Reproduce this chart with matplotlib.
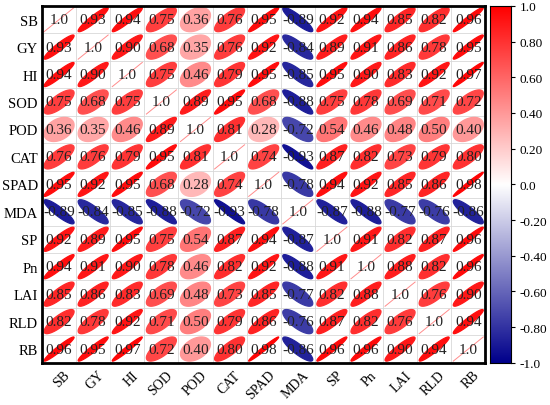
import numpy as np
import matplotlib
matplotlib.use("Agg")
import matplotlib.pyplot as plt
import matplotlib.transforms as mtrans
from matplotlib.colors import LinearSegmentedColormap
from matplotlib.patches import Polygon

# variables y matriz de correlación
labels = ["SB", "GY", "HI", "SOD", "POD", "CAT", "SPAD", "MDA", "SP", "Pn", "LAI", "RLD", "RB"]

corr = np.array([
    [1.0, 0.93, 0.94, 0.75, 0.36, 0.76, 0.95, -0.89, 0.92, 0.94, 0.85, 0.82, 0.96],
    [0.93, 1.0, 0.90, 0.68, 0.35, 0.76, 0.92, -0.84, 0.89, 0.91, 0.86, 0.78, 0.95],
    [0.94, 0.90, 1.0, 0.75, 0.46, 0.79, 0.95, -0.85, 0.95, 0.90, 0.83, 0.92, 0.97],
    [0.75, 0.68, 0.75, 1.0, 0.89, 0.95, 0.68, -0.88, 0.75, 0.78, 0.69, 0.71, 0.72],
    [0.36, 0.35, 0.46, 0.89, 1.0, 0.81, 0.28, -0.72, 0.54, 0.46, 0.48, 0.50, 0.40],
    [0.76, 0.76, 0.79, 0.95, 0.81, 1.0, 0.74, -0.93, 0.87, 0.82, 0.73, 0.79, 0.80],
    [0.95, 0.92, 0.95, 0.68, 0.28, 0.74, 1.0, -0.78, 0.94, 0.92, 0.85, 0.86, 0.98],
    [-0.89, -0.84, -0.85, -0.88, -0.72, -0.93, -0.78, 1.0, -0.87, -0.88, -0.77, -0.76, -0.86],
    [0.92, 0.89, 0.95, 0.75, 0.54, 0.87, 0.94, -0.87, 1.0, 0.91, 0.82, 0.87, 0.96],
    [0.94, 0.91, 0.90, 0.78, 0.46, 0.82, 0.92, -0.88, 0.91, 1.0, 0.88, 0.82, 0.96],
    [0.85, 0.86, 0.83, 0.69, 0.48, 0.73, 0.85, -0.77, 0.82, 0.88, 1.0, 0.76, 0.90],
    [0.82, 0.78, 0.92, 0.71, 0.50, 0.79, 0.86, -0.76, 0.87, 0.82, 0.76, 1.0, 0.94],
    [0.96, 0.95, 0.97, 0.72, 0.40, 0.80, 0.98, -0.86, 0.96, 0.96, 0.90, 0.94, 1.0],
])

cbar_ticks = [-1.0, -0.8, -0.6, -0.4, -0.2, 0.0, 0.2, 0.4, 0.6, 0.8, 1.0]
cbar_labels = ["-1.0", "-0.80", "-0.60", "-0.40", "-0.20", "0.0", "0.20", "0.40", "0.60", "0.80", "1.0"]

FONT = "Liberation Serif"
cmap = LinearSegmentedColormap.from_list("bwr_dark", ["#00008B", "#FFFFFF", "#FF0000"])
n = len(labels)

fig = plt.figure(figsize=(5.5, 4.06), dpi=100)
ax = fig.add_axes([0.0764, 0.104, 0.806, 0.879])
cax = fig.add_axes([0.891, 0.104, 0.038, 0.879])

ax.set_xlim(-0.5, n - 0.5)
ax.set_ylim(n - 0.5, -0.5)

# rejilla
for k in range(n + 1):
    ax.axhline(k - 0.5, color="#d8d8d8", lw=0.6, zorder=1)
    ax.axvline(k - 0.5, color="#d8d8d8", lw=0.6, zorder=1)

t = np.linspace(0, 2 * np.pi, 100)
S = 0.44
for i in range(n):
    for j in range(n):
        r = corr[i, j]
        col = cmap((r + 1) / 2)
        if i == j:
            ax.plot([j - S, j + S], [i + S, i - S], color=col, alpha=0.45, lw=0.7, zorder=2)
            txt = "1.0"
        else:
            d = np.arccos(r)
            ex = np.cos(t + d / 2)
            ey = np.cos(t - d / 2)
            pts = np.column_stack([j + S * ex, i - S * ey])
            ax.add_patch(Polygon(pts, closed=True, facecolor=col, edgecolor=col,
                                 lw=0.9, zorder=2))
            txt = f"{r:.2f}"
        ax.text(j, i, txt, ha="center", va="center", fontsize=11, family=FONT,
                color="#222222", zorder=3)

ax.set_xticks(range(n))
ax.set_yticks(range(n))
ax.set_xticklabels(labels, rotation=45, ha="right", va="center", rotation_mode="anchor",
                   family=FONT, fontsize=10)
ax.set_yticklabels(labels, family=FONT, fontsize=10.5)
ax.tick_params(length=0)
ax.tick_params(axis="y", pad=3)
ax.tick_params(axis="x", pad=0)
shift = mtrans.ScaledTranslation(9 / 100, -10 / 100, fig.dpi_scale_trans)
for lab in ax.get_xticklabels():
    lab.set_transform(lab.get_transform() + shift)
for sp in ax.spines.values():
    sp.set_linewidth(2)

# barra de color
grad = np.linspace(-1, 1, 256).reshape(-1, 1)
cax.imshow(grad, cmap=cmap, aspect="auto", origin="lower", extent=[0, 1, -1, 1], vmin=-1, vmax=1)
cax.set_xticks([])
cax.yaxis.tick_right()
cax.set_yticks(cbar_ticks)
cax.set_yticklabels(cbar_labels, family=FONT, fontsize=9.5)
cax.tick_params(axis="y", length=3, width=0.8)
for sp in cax.spines.values():
    sp.set_linewidth(0.8)

fig.savefig("out.png", dpi=100)
